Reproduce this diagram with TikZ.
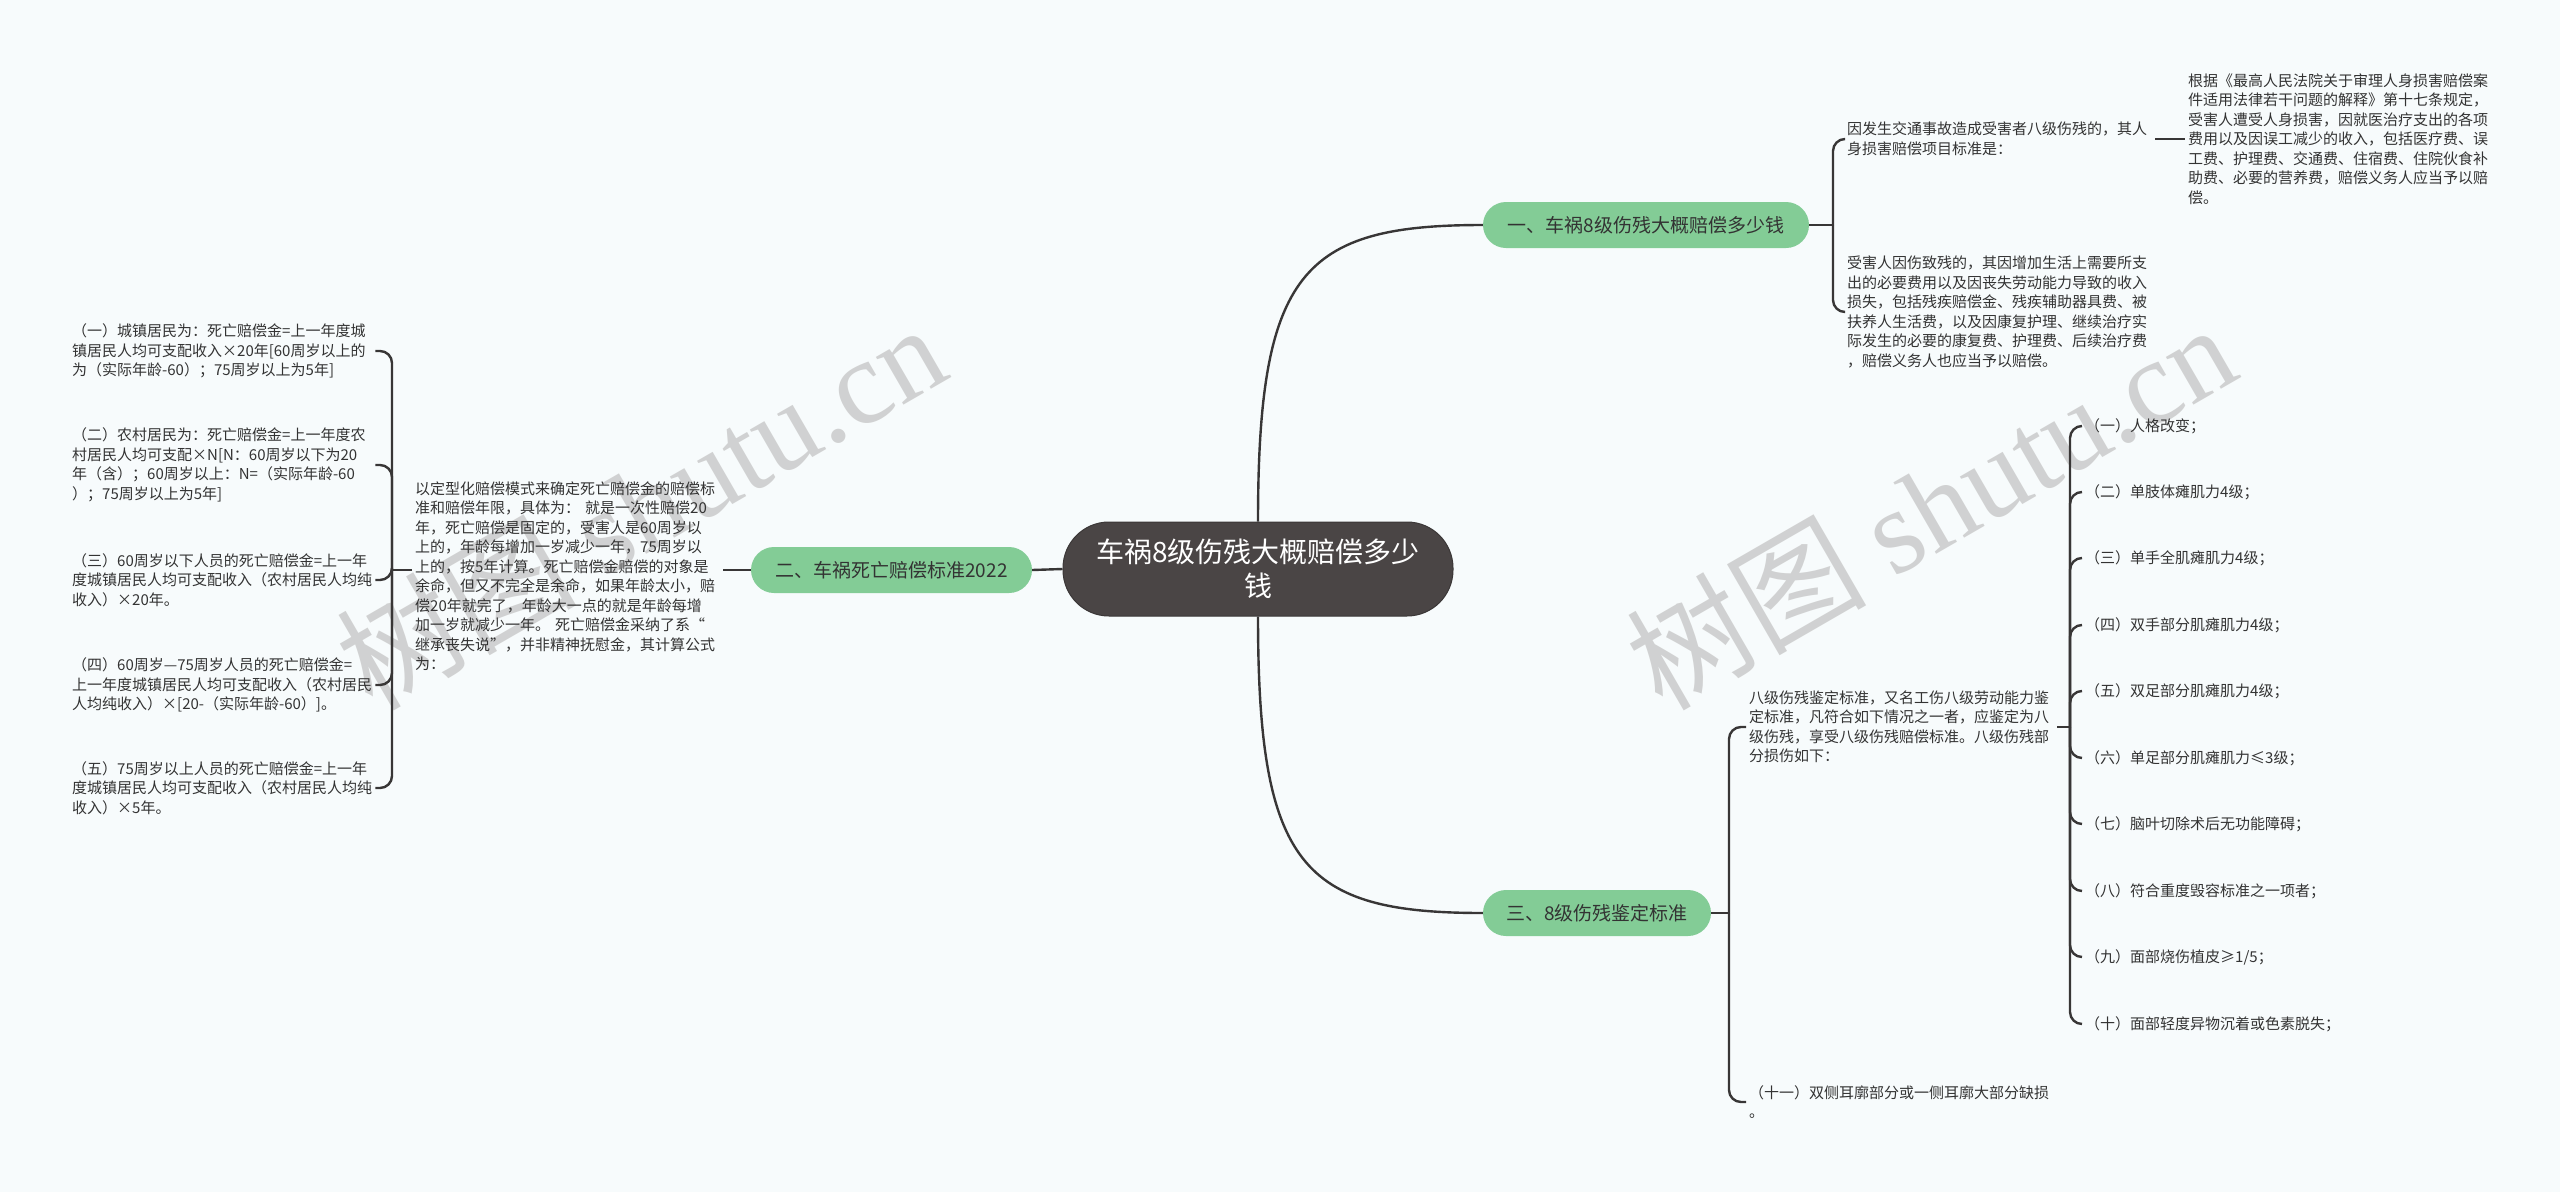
\documentclass[tikz,border=0pt]{standalone}
\usepackage{fontspec}
\setmainfont{Noto Sans CJK SC}
\newfontfamily\wmfont{Liberation Serif}
\definecolor{bgc}{HTML}{F7FBFC}
\definecolor{lc}{HTML}{383636}
\definecolor{tc}{HTML}{333333}
\definecolor{gfill}{HTML}{83CC96}
\definecolor{rootc}{HTML}{4A4545}
\definecolor{wmc}{HTML}{C4C4C4}
\begin{document}
\begin{tikzpicture}[x=1pt,y=-1pt,
  conn/.style={draw=lc, line width=2.4pt},
  bracket/.style={draw=lc, line width=2.4pt, rounded corners=12pt},
  txt/.style={inner sep=3pt, align=left, text width=305pt, text=tc, anchor=west,
    font=\fontsize{15pt}{19.5pt}\selectfont},
  item/.style={inner sep=3pt, align=left, text=tc, anchor=west,
    font=\fontsize{15pt}{19.5pt}\selectfont},
  branch/.style={fill=gfill, rounded corners=23pt, minimum height=46pt, inner sep=0pt,
    text=tc, font=\fontsize{19pt}{23pt}\selectfont},
  rootbox/.style={fill=rootc, draw=rootc!80!black, line width=1pt, rounded corners=46pt,
    minimum width=390pt, minimum height=94pt, text=white, align=center,
    font=\fontsize{28pt}{34pt}\selectfont},
  wm/.style={text=wmc, opacity=0.75, font=\fontsize{120pt}{130pt}\selectfont, rotate=30}
]
\fill[bgc] (0,0) rectangle (2560,1192);
\useasboundingbox (0,0) rectangle (2560,1192);

% watermarks
\node[wm] (wm1) at (640,505) {树图 {\wmfont shutu.cn}};
\node[wm] (wm2) at (1930,505) {树图 {\wmfont shutu.cn}};

% root and branches
\node[rootbox] (root) at (1258,569) {车祸8级伤残大概赔偿多少\\钱};
\node[branch, minimum width=326pt] (b1) at (1646,225) {一、车祸8级伤残大概赔偿多少钱};
\node[branch, minimum width=281pt] (b2) at (891.5,570) {二、车祸死亡赔偿标准2022};
\node[branch, minimum width=228pt] (b3) at (1597,913) {三、8级伤残鉴定标准};

\draw[conn] (root.north) .. controls +(0,-250) and +(-180,0) .. (b1.west);
\draw[conn] (root.south) .. controls +(0,250) and +(-180,0) .. (b3.west);
\draw[conn] (root.west) -- (b2.east);

% branch 1
\node[txt] (c11) at (1844,139) {因发生交通事故造成受害者八级伤残的，其人\\身损害赔偿项目标准是：};
\node[txt] (g111) at (2185,139) {根据《最高人民法院关于审理人身损害赔偿案\\件适用法律若干问题的解释》第十七条规定，\\受害人遭受人身损害，因就医治疗支出的各项\\费用以及因误工减少的收入，包括医疗费、误\\工费、护理费、交通费、住宿费、住院伙食补\\助费、必要的营养费，赔偿义务人应当予以赔\\偿。};
\node[txt] (c12) at (1844,312) {受害人因伤致残的，其因增加生活上需要所支\\出的必要费用以及因丧失劳动能力导致的收入\\损失，包括残疾赔偿金、残疾辅助器具费、被\\扶养人生活费，以及因康复护理、继续治疗实\\际发生的必要的康复费、护理费、后续治疗费\\，赔偿义务人也应当予以赔偿。};
\coordinate (j1) at (1833,225);
\draw[conn] (b1.east) -- (j1);
\draw[bracket] (j1) |- (c11.west);
\draw[bracket] (j1) |- (c12.west);
\draw[conn] (c11.east) -- (g111.west);

% branch 2
\node[txt] (t2) at (412,576) {以定型化赔偿模式来确定死亡赔偿金的赔偿标\\准和赔偿年限，具体为： 就是一次性赔偿20\\年，死亡赔偿是固定的，受害人是60周岁以\\上的，年龄每增加一岁减少一年，75周岁以\\上的，按5年计算。死亡赔偿金赔偿的对象是\\余命，但又不完全是余命，如果年龄太小，赔\\偿20年就完了，年龄大一点的就是年龄每增\\加一岁就减少一年。 死亡赔偿金采纳了系“\\继承丧失说”，并非精神抚慰金，其计算公式\\为：};
\draw[conn] (b2.west) -- (b2.west -| t2.east);
\coordinate (j2) at (392,570);
\draw[conn] (j2 -| t2.west) -- (j2);
\node[txt, text width=300pt] (e1) at (69,351) {（一）城镇居民为：死亡赔偿金=上一年度城\\镇居民人均可支配收入×20年[60周岁以上的\\为（实际年龄-60）；75周岁以上为5年]};
\node[txt, text width=300pt] (e2) at (69,465) {（二）农村居民为：死亡赔偿金=上一年度农\\村居民人均可支配×N[N：60周岁以下为20\\年（含）；60周岁以上：N=（实际年龄-60\\）；75周岁以上为5年]};
\node[txt, text width=300pt] (e3) at (69,580) {（三）60周岁以下人员的死亡赔偿金=上一年\\度城镇居民人均可支配收入（农村居民人均纯\\收入）×20年。};
\node[txt, text width=300pt] (e4) at (69,685) {（四）60周岁—75周岁人员的死亡赔偿金=\\上一年度城镇居民人均可支配收入（农村居民\\人均纯收入）×[20-（实际年龄-60）]。};
\node[txt, text width=300pt] (e5) at (69,788) {（五）75周岁以上人员的死亡赔偿金=上一年\\度城镇居民人均可支配收入（农村居民人均纯\\收入）×5年。};
\foreach \e in {e1,e2,e3,e4,e5} {
  \draw[bracket] (j2) |- (\e.east);
}

% branch 3
\coordinate (j3) at (1729,913);
\draw[conn] (b3.east) -- (j3);
\node[txt] (c31) at (1746,727) {八级伤残鉴定标准，又名工伤八级劳动能力鉴\\定标准，凡符合如下情况之一者，应鉴定为八\\级伤残，享受八级伤残赔偿标准。八级伤残部\\分损伤如下：};
\node[txt] (c32) at (1746,1102) {（十一）双侧耳廓部分或一侧耳廓大部分缺损\\。};
\draw[bracket] (j3) |- (c31.west);
\draw[bracket] (j3) |- (c32.west);
\coordinate (j31) at (2070,727);
\draw[conn] (c31.east) -- (j31);
\node[item] (d1) at (2082,426) {（一）人格改变；};
\node[item] (d2) at (2082,492) {（二）单肢体瘫肌力4级；};
\node[item] (d3) at (2082,558) {（三）单手全肌瘫肌力4级；};
\node[item] (d4) at (2082,625) {（四）双手部分肌瘫肌力4级；};
\node[item] (d5) at (2082,691) {（五）双足部分肌瘫肌力4级；};
\node[item] (d6) at (2082,758) {（六）单足部分肌瘫肌力≤3级；};
\node[item] (d7) at (2082,824) {（七）脑叶切除术后无功能障碍；};
\node[item] (d8) at (2082,891) {（八）符合重度毁容标准之一项者；};
\node[item] (d9) at (2082,957) {（九）面部烧伤植皮≥1/5；};
\node[item] (d10) at (2082,1024) {（十）面部轻度异物沉着或色素脱失；};
\foreach \d in {d1,d2,d3,d4,d5,d6,d7,d8,d9,d10} {
  \draw[bracket] (j31) |- (\d.west);
}
\end{tikzpicture}
\end{document}
